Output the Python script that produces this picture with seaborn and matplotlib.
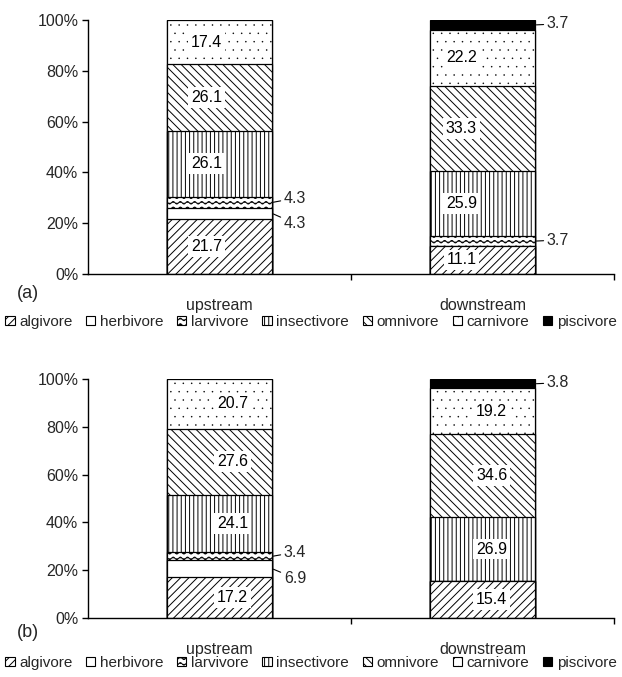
import warnings
warnings.filterwarnings("ignore")
import matplotlib
matplotlib.use("Agg")
import matplotlib.pyplot as plt
import matplotlib.hatch as mhatch
from matplotlib.path import Path
from matplotlib.patches import Patch
import numpy as np
import pandas as pd
import seaborn as sns

# ---------------- data ----------------
sites = ["upstream", "downstream"]
groups = ["algivore", "herbivore", "larvivore", "insectivore",
          "omnivore", "carnivore", "piscivore"]
pct_a_upstream = [21.7, 4.3, 4.3, 26.1, 26.1, 17.4, 0.0]
pct_a_downstream = [11.1, 0.0, 3.7, 25.9, 33.3, 22.2, 3.7]
pct_b_upstream = [17.2, 6.9, 3.4, 24.1, 27.6, 20.7, 0.0]
pct_b_downstream = [15.4, 0.0, 0.0, 26.9, 34.6, 19.2, 3.8]
yticks = [0, 20, 40, 60, 80, 100]
panel_labels = ["(a)", "(b)"]

# ---------------- custom hatches ----------------
class WavyHatch(mhatch.HatchPatternBase):
    npts = 281

    def __init__(self, hatch, density):
        self.num_lines = int(hatch.count("~") * density)
        self.num_vertices = self.num_lines * self.npts

    def set_vertices_and_codes(self, vertices, codes):
        t = np.linspace(0, 1, self.npts)
        n = self.num_lines
        for i in range(n):
            y0 = (i + 0.5) / n
            s = slice(i * self.npts, (i + 1) * self.npts)
            vertices[s, 0] = t
            vertices[s, 1] = y0 + 0.22 / n * np.sin(2 * np.pi * 14 * t)
            codes[s] = Path.LINETO
            codes[i * self.npts] = Path.MOVETO


class TinyDots(mhatch.Circles):
    size = 0.035
    filled = True

    def __init__(self, hatch, density):
        self.num_rows = hatch.count(":") * density
        super().__init__(hatch, density)


mhatch._hatch_types.append(WavyHatch)
mhatch._hatch_types.append(TinyDots)

# ---------------- style ----------------
sns.set_style("ticks")
plt.rcParams["font.family"] = ["Liberation Sans", "DejaVu Sans"]
plt.rcParams["hatch.linewidth"] = 0.7
plt.rcParams["hatch.color"] = "black"

face = ["white", "white", "white", "white", "white", "white", "black"]
hatches = ["////", None, "~~~", "||||", "\\\\\\\\", "::", None]

fig = plt.figure(figsize=(6.22, 6.77), dpi=100)
ax_a = fig.add_axes([0.1415, 0.5953, 0.8455, 0.3752])
ax_b = fig.add_axes([0.1415, 0.0871, 0.8455, 0.3531])

panels = [
    (ax_a, pct_a_upstream, pct_a_downstream, (-0.05, -0.08), 0.5244, 0.567),
    (ax_b, pct_b_upstream, pct_b_downstream, (0.05, 0.035), 0.0207, 0.066),
]

half_w = 0.2
for pi, (ax, up, down, offs, leg_y, lab_y) in enumerate(panels):
    vals = np.array([up, down])
    cum = np.cumsum(vals, axis=1)
    for k in range(len(groups) - 1, -1, -1):
        df = pd.DataFrame({"site": sites, "pct": cum[:, k]})
        n0 = len(ax.patches)
        sns.barplot(data=df, x="site", y="pct", order=sites, color=face[k],
                    saturation=1, width=0.4, edgecolor="black", linewidth=0.9,
                    errorbar=None, ax=ax)
        for p in ax.patches[n0:]:
            if hatches[k]:
                p.set_hatch(hatches[k])

    # value labels
    for i in range(len(sites)):
        for k in range(len(groups)):
            v = vals[i, k]
            if v <= 0:
                continue
            mid = cum[i, k] - v / 2
            txt = f"{v:.1f}"
            if v >= 8:
                ax.text(i + offs[i], mid, txt, ha="center", va="center",
                        fontsize=11.5, color="black",
                        bbox=dict(boxstyle="square,pad=0.18", fc="white", ec="none"))
            else:
                above_small = k + 1 < len(groups) and 0 < vals[i, k + 1] < 8
                below_small = k > 0 and 0 < vals[i, k - 1] < 8
                if above_small:
                    ylab = mid - 4.0
                elif below_small:
                    ylab = mid + 1.7
                else:
                    ylab = mid + 0.4
                ax.annotate(txt, xy=(i + half_w, mid),
                            xytext=(i + half_w + 0.045, ylab),
                            ha="left", va="center", fontsize=11.5,
                            arrowprops=dict(arrowstyle="-", lw=0.8, color="black",
                                            shrinkA=0, shrinkB=1))

    ax.set_xlim(-0.5, 1.5)
    ax.set_ylim(0, 100)
    ax.set_yticks(yticks)
    ax.set_yticklabels([f"{t}%" for t in yticks])
    ax.set_xticks([0, 1])
    ax.set_xticklabels(sites)
    ax.set_xticks([0.5, 1.5], minor=True)
    ax.tick_params(axis="x", which="major", length=0, pad=17, labelsize=11.5)
    ax.tick_params(axis="x", which="minor", length=4, width=1, direction="out",
                   color="black")
    ax.tick_params(axis="y", length=4, width=1, direction="out", labelsize=11.5,
                   pad=3, color="black")
    ax.set_xlabel("")
    ax.set_ylabel("")
    for s in ["top", "right"]:
        ax.spines[s].set_visible(False)
    for s in ["left", "bottom"]:
        ax.spines[s].set_linewidth(1.0)
        ax.spines[s].set_color("black")

    handles = [Patch(facecolor=face[k], edgecolor="black", linewidth=0.8,
                     hatch=hatches[k], label=groups[k]) for k in range(len(groups))]
    fig.legend(handles=handles, loc="center", bbox_to_anchor=(0.5, leg_y),
               ncol=7, frameon=False, fontsize=11, handlelength=0.6,
               handleheight=0.6, handletextpad=0.3, columnspacing=0.9,
               borderpad=0, borderaxespad=0)
    fig.text(0.045, lab_y, panel_labels[pi], fontsize=13, ha="center", va="center")

fig.savefig("out.png", dpi=100)
